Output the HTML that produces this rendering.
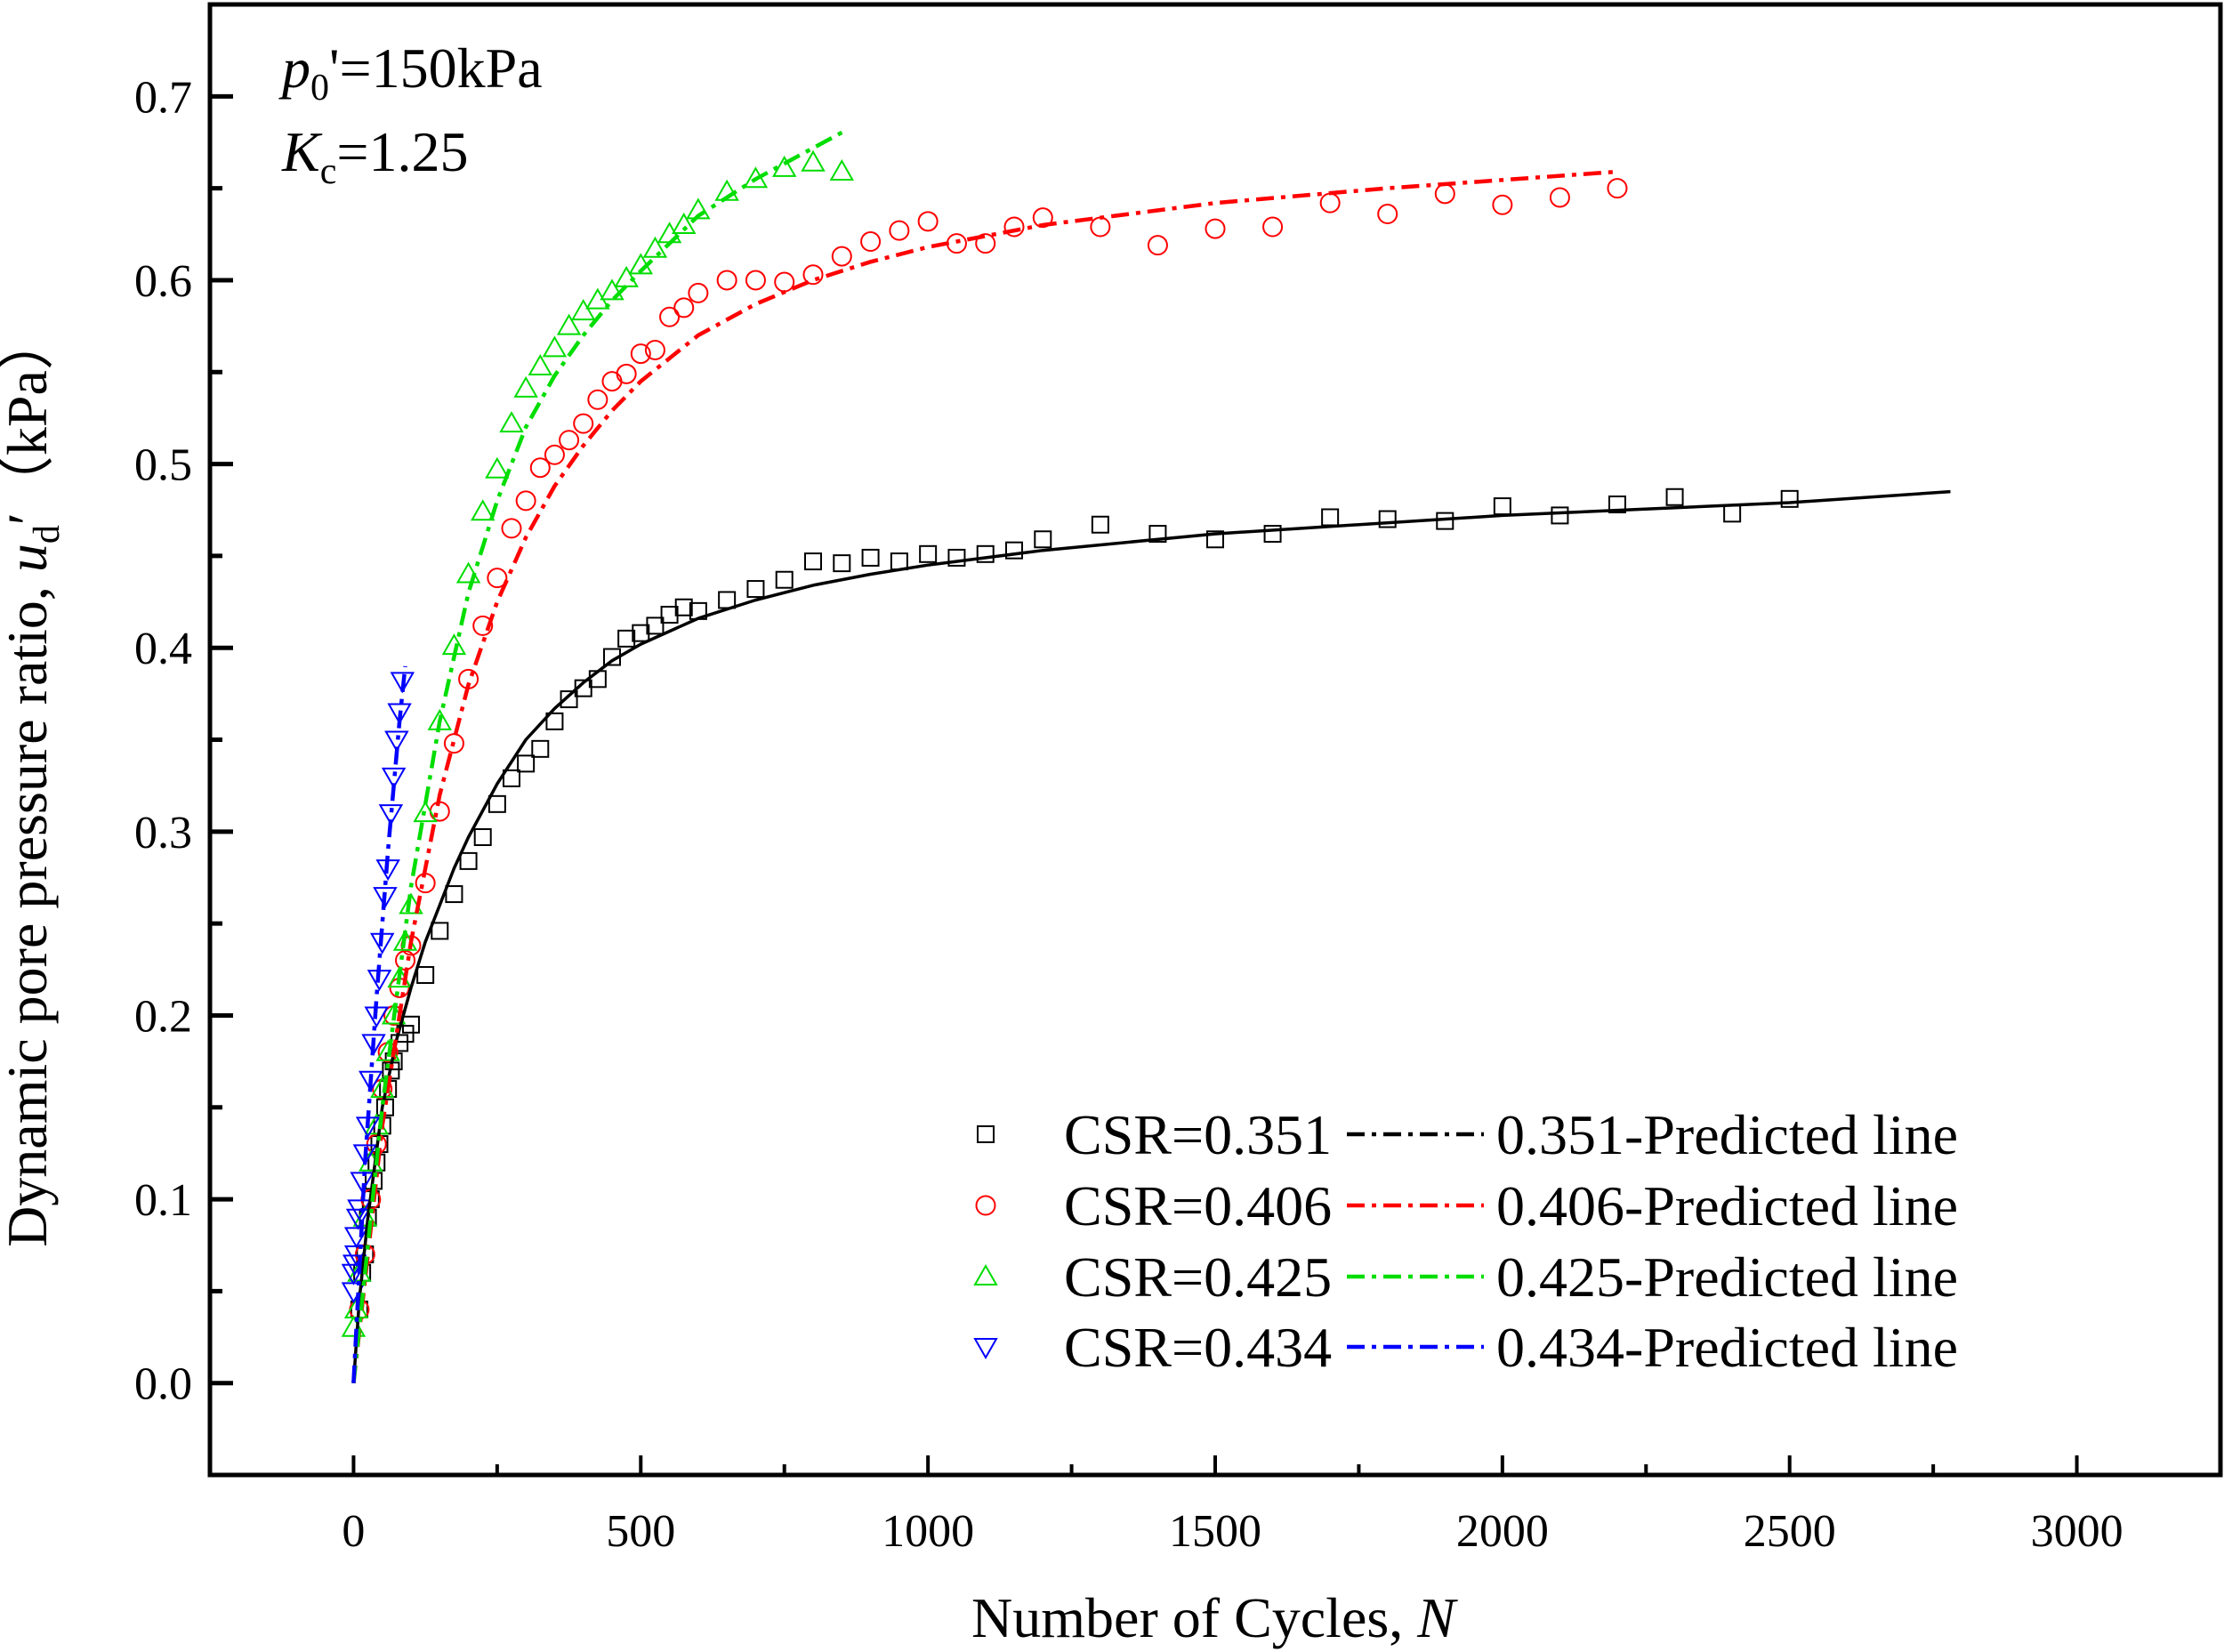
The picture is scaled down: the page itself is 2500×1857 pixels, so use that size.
<!DOCTYPE html>
<html><head><meta charset="utf-8"><style>
html,body{margin:0;padding:0;background:#fff;}
svg{display:block;font-family:"Liberation Serif",serif;}
</style></head><body>
<svg id="chart" width="2500" height="1857" viewBox="0 0 2500 1857" xmlns="http://www.w3.org/2000/svg">
<g id="plot"></g>
<text x="317" y="98" font-size="64"><tspan font-style="italic">p</tspan><tspan font-size="42" dy="14">0</tspan><tspan dy="-14">'=150kPa</tspan></text>
<text x="317" y="192" font-size="64"><tspan font-style="italic">K</tspan><tspan font-size="42" dy="14">c</tspan><tspan dy="-14">=1.25</tspan></text>
<text x="1364" y="1840" font-size="64" text-anchor="middle">Number of Cycles, <tspan font-style="italic">N</tspan></text>
<text transform="translate(52,877) rotate(-90)" font-size="64" text-anchor="middle">Dynamic pore pressure ratio, <tspan font-style="italic">u</tspan><tspan font-size="42" dy="14">d</tspan><tspan dy="-14">′（kPa）</tspan></text>
</svg>
<script>
const xTicks=[0,500,1000,1500,2000,2500,3000];
const yTicks=[0.0,0.1,0.2,0.3,0.4,0.5,0.6,0.7];
const yTickLabels=["0.0","0.1","0.2","0.3","0.4","0.5","0.6","0.7"];
const seriesNames=["CSR=0.351","CSR=0.406","CSR=0.425","CSR=0.434"];
const lineNames=["0.351-Predicted line","0.406-Predicted line","0.425-Predicted line","0.434-Predicted line"];
const colors=["#000000","#ff0000","#00dd00","#0000ff"];
const markerTypes=["square","circle","tri-up","tri-down"];

const n351=[10,15,20,25,30,35,40,45,50,55,60,65,70,80,90,100,125,150,175,200,225,250,275,300,325,350,375,400,425,450,475,500,525,550,575,600,650,700,750,800,850,900,950,1000,1050,1100,1150,1200,1300,1400,1500,1600,1700,1800,1900,2000,2100,2200,2300,2400,2500];
const u351=[0.04,0.06,0.07,0.09,0.1,0.11,0.12,0.13,0.14,0.15,0.16,0.17,0.175,0.185,0.19,0.195,0.222,0.246,0.266,0.284,0.297,0.315,0.329,0.337,0.345,0.36,0.372,0.378,0.383,0.395,0.405,0.408,0.412,0.418,0.422,0.42,0.426,0.432,0.437,0.447,0.446,0.449,0.447,0.451,0.449,0.451,0.453,0.459,0.467,0.462,0.459,0.462,0.471,0.47,0.469,0.477,0.472,0.478,0.482,0.473,0.481];
const n406=[10,20,30,40,50,60,70,80,90,100,125,150,175,200,225,250,275,300,325,350,375,400,425,450,475,500,525,550,575,600,650,700,750,800,850,900,950,1000,1050,1100,1150,1200,1300,1400,1500,1600,1700,1800,1900,2000,2100,2200];
const u406=[0.04,0.07,0.1,0.13,0.16,0.18,0.2,0.215,0.23,0.238,0.272,0.311,0.348,0.383,0.412,0.438,0.465,0.48,0.498,0.505,0.513,0.522,0.535,0.545,0.549,0.56,0.562,0.58,0.585,0.593,0.6,0.6,0.599,0.603,0.613,0.621,0.627,0.632,0.62,0.62,0.629,0.634,0.629,0.619,0.628,0.629,0.642,0.636,0.647,0.641,0.645,0.65];
const n425=[0,5,10,20,30,40,50,60,70,80,90,100,125,150,175,200,225,250,275,300,325,350,375,400,425,450,475,500,525,550,575,600,650,700,750,800,850];
const u425=[0.03,0.04,0.06,0.09,0.12,0.14,0.16,0.18,0.2,0.22,0.24,0.26,0.31,0.36,0.401,0.44,0.474,0.497,0.522,0.541,0.553,0.563,0.575,0.583,0.589,0.594,0.601,0.608,0.617,0.625,0.63,0.638,0.648,0.655,0.661,0.664,0.659];
const n434=[0,0,2,5,5,8,10,15,20,25,30,35,40,45,50,55,60,65,70,75,80,85];
const u434=[0.05,0.06,0.065,0.07,0.08,0.09,0.095,0.11,0.125,0.14,0.165,0.185,0.2,0.22,0.24,0.265,0.28,0.31,0.33,0.35,0.365,0.382];

const ln351=[0,10,25,50,75,100,125,150,175,200,250,300,350,400,450,500,600,700,800,900,1000,1200,1500,2000,2500,2780];
const lu351=[0,0.045,0.09,0.15,0.187,0.215,0.24,0.26,0.28,0.297,0.326,0.35,0.367,0.381,0.393,0.402,0.416,0.426,0.434,0.44,0.445,0.453,0.462,0.472,0.479,0.485];
const ln406=[0,50,100,150,200,250,300,350,400,450,500,600,700,800,900,1000,1200,1500,1800,2200];
const lu406=[0,0.14,0.24,0.32,0.38,0.425,0.46,0.488,0.51,0.529,0.545,0.57,0.587,0.6,0.61,0.618,0.63,0.642,0.65,0.659];
const ln425=[0,50,100,150,200,250,300,350,400,450,500,600,700,860];
const lu425=[0,0.15,0.27,0.36,0.43,0.48,0.52,0.548,0.57,0.589,0.605,0.635,0.655,0.682];
const ln434=[0,20,40,60,80,90];
const lu434=[0,0.12,0.21,0.29,0.36,0.39];

const X0=236,X1=2496,Y0=5,Y1=1658;
const xMin=-250,xMax=3250,yMin=-0.05,yMax=0.75;
function sx(v){return X0+(v-xMin)/(xMax-xMin)*(X1-X0);}
function sy(v){return Y1-(v-yMin)/(yMax-yMin)*(Y1-Y0);}
const NS="http://www.w3.org/2000/svg";
const plot=document.getElementById('plot');
function mk(tag,attrs,parent){const e=document.createElementNS(NS,tag);for(const k in attrs)e.setAttribute(k,attrs[k]);(parent||plot).appendChild(e);return e;}

xTicks.forEach((t,i)=>{
  const l=mk('line',{x1:sx(t),x2:sx(t),y1:Y1,y2:Y1-22,stroke:'#000','stroke-width':4});
  
  
  const tx=mk('text',{x:sx(t),y:1738,'font-size':52,'text-anchor':'middle'});
  
  
  tx.textContent=String(t);
  if(i<xTicks.length-1){
    const m=mk('line',{x1:sx(t+250),x2:sx(t+250),y1:Y1,y2:Y1-12,stroke:'#000','stroke-width':4});
    
    
  }
});
yTicks.forEach((t,i)=>{
  const l=mk('line',{x1:X0,x2:X0+26,y1:sy(t),y2:sy(t),stroke:'#000','stroke-width':5});
  
  
  const tx=mk('text',{x:216,y:sy(t)+18,'font-size':52,'text-anchor':'end'});
  
  
  tx.textContent=yTickLabels[i];
  const m=mk('line',{x1:X0,x2:X0+14,y1:sy(t+0.05),y2:sy(t+0.05),stroke:'#000','stroke-width':5});
  
  
});

function marker(type,x,y,color,name,parent){
  let e;
  const p=parent||plot;
  if(type==='square'){e=mk('rect',{x:x-9,y:y-9,width:18,height:18,fill:'none',stroke:color,'stroke-width':2},p);}
  else if(type==='circle'){e=mk('circle',{cx:x,cy:y,r:10.5,fill:'none',stroke:color,'stroke-width':2},p);}
  else if(type==='tri-up'){e=mk('polygon',{points:`${x},${y-12} ${x-12},${y+9} ${x+12},${y+9}`,fill:'none',stroke:color,'stroke-width':2},p);}
  else {e=mk('polygon',{points:`${x},${y+12} ${x-12},${y-9} ${x+12},${y-9}`,fill:'none',stroke:color,'stroke-width':2},p);}
  
  
  return e;
}
function line(ns,us,color,name){
  const pts=ns.map((n,i)=>sx(n).toFixed(1)+','+sy(us[i]).toFixed(1)).join(' ');
  const p=mk('polyline',{points:pts,fill:'none',stroke:color,'stroke-width':color==='#000000'?3.5:4.5,'stroke-dasharray':color==='#000000'?'none':'20,8,5,8','stroke-linejoin':'round'});
  
  
}
const allN=[n351,n406,n425,n434],allU=[u351,u406,u425,u434];
const allLN=[ln351,ln406,ln425,ln434],allLU=[lu351,lu406,lu425,lu434];
for(let s=0;s<4;s++){
  allN[s].forEach((n,i)=>marker(markerTypes[s],sx(n),sy(allU[s][i]),colors[s],'data-point'));
}
for(let s=0;s<4;s++){
  line(allLN[s],allLU[s],colors[s],'predicted-line');
}
const fr=mk('rect',{x:X0,y:Y0,width:X1-X0,height:Y1-Y0,fill:'none',stroke:'#000','stroke-width':5});



const legY=[1275,1355,1435,1514];
for(let s=0;s<4;s++){
  const g=mk('g',{});
  
  
  marker(markerTypes[s],1108,legY[s],colors[s],'legend-marker',g);
  const t1=mk('text',{x:1196,y:legY[s]+22,'font-size':64},g);
  
  
  t1.textContent=seriesNames[s];
  const l=mk('line',{x1:1514,x2:1668,y1:legY[s],y2:legY[s],stroke:colors[s],'stroke-width':4.5,'stroke-dasharray':'20,8,5,8'},g);
  
  
  const t2=mk('text',{x:1682,y:legY[s]+22,'font-size':64},g);
  
  
  t2.textContent=lineNames[s];
}
</script>
</body></html>
